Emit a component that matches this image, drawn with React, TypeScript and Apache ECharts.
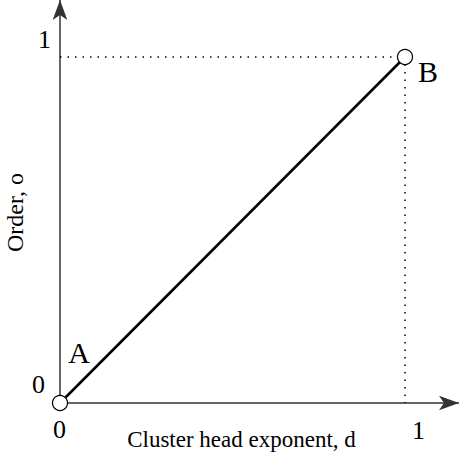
import React, { useEffect, useRef } from "react";
import * as echarts from "echarts";

const pointNames = ["A", "B"];
const xValues = [0, 1];
const yValues = [0, 1];
const xTicks = ["0", "1"];
const yTicks = ["0", "1"];
const xTitle = "Cluster head exponent, d";
const yTitle = "Order, o";

export default function App() {
  const ref = useRef<HTMLDivElement>(null);
  useEffect(() => {
    const chart = echarts.init(ref.current!, null, { renderer: "svg" });
    const font = "Liberation Serif";
    const data = xValues.map((x, i) => ({
      value: [x, yValues[i]],
      name: pointNames[i],
      label:
        i === 0
          ? { show: true, formatter: "{b}", position: "top", offset: [19, -22], fontSize: 30, fontFamily: font, color: "#000" }
          : { show: true, formatter: "{b}", position: "right", offset: [0, 14], fontSize: 30, fontFamily: font, color: "#000" },
    }));
    chart.setOption({
      animation: false,
      grid: { left: 60, right: 0, top: 0, bottom: 56, containLabel: false, outerBoundsMode: "none" },
      xAxis: {
        type: "value",
        min: 0,
        max: 399 / 345,
        axisLine: { show: true, symbol: ["none", "arrow"], symbolSize: [11, 20], lineStyle: { color: "#333", width: 1.5 } },
        axisTick: { show: false },
        axisLabel: { show: false },
        splitLine: { show: false },
        name: xTitle,
        nameLocation: "middle",
        nameGap: 25,
        nameTextStyle: { fontFamily: font, fontSize: 23, color: "#000", padding: [0, 36, 0, 0] },
      },
      yAxis: {
        type: "value",
        min: 0,
        max: 403 / 346,
        axisLine: { show: true, symbol: ["none", "arrow"], symbolSize: [11, 20], lineStyle: { color: "#333", width: 1.5 } },
        axisTick: { show: false },
        axisLabel: { show: false },
        splitLine: { show: false },
        name: yTitle,
        nameLocation: "middle",
        nameGap: 33,
        nameRotate: 90,
        nameTextStyle: { fontFamily: font, fontSize: 24, color: "#000", padding: [0, 22, 0, 0] },
      },
      series: [
        {
          type: "line",
          data,
          symbol: "circle",
          symbolSize: 15,
          itemStyle: { color: "#fff", borderColor: "#000", borderWidth: 1.2 },
          lineStyle: { color: "#000", width: 2.6 },
          z: 5,
          markLine: {
            silent: true,
            symbol: "none",
            label: { show: false },
            lineStyle: { type: [1.5, 6], color: "#000", width: 1.5 },
            data: [
              [{ coord: [xValues[0], yValues[1]] }, { coord: [xValues[1], yValues[1]] }],
              [{ coord: [xValues[1], yValues[1]] }, { coord: [xValues[1], yValues[0]] }],
            ],
          },
        },
      ],
      graphic: [
        { type: "text", left: 32, top: 371, style: { text: yTicks[0], font: `26px ${font}`, fill: "#000" } },
        { type: "text", left: 38, top: 26, style: { text: yTicks[1], font: `26px ${font}`, fill: "#000" } },
        { type: "text", left: 53, top: 416, style: { text: xTicks[0], font: `26px ${font}`, fill: "#000" } },
        { type: "text", left: 412, top: 417, style: { text: xTicks[1], font: `26px ${font}`, fill: "#000" } },
      ],
    });
    return () => chart.dispose();
  }, []);
  return <div ref={ref} style={{ width: 459, height: 459, position: "absolute", left: 0, top: 0 }} />;
}
